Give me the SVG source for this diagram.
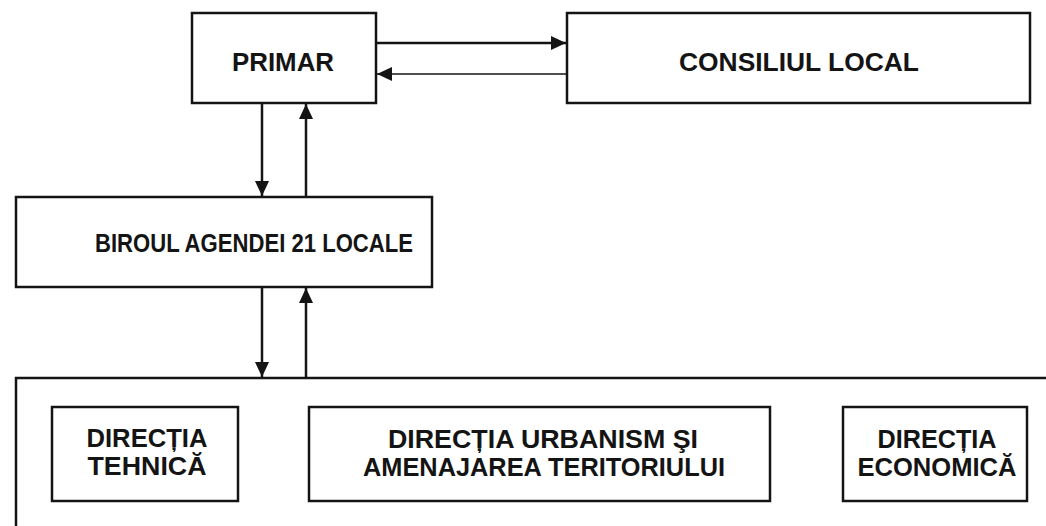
<svg xmlns="http://www.w3.org/2000/svg" width="1046" height="526" viewBox="0 0 1046 526">
<defs>
<marker id="ah" markerUnits="userSpaceOnUse" markerWidth="16" markerHeight="14" refX="15" refY="7" orient="auto">
<path d="M0,0 L15,7 L0,14 Z" fill="#141414"/>
</marker>
</defs>
<style>
.box{fill:#fff;stroke:#141414;stroke-width:2.5}
.t{font-family:"Liberation Sans",Arial,sans-serif;font-weight:bold;font-size:26px;fill:#141414;text-anchor:middle}
.c{stroke:#141414;stroke-width:2.5;fill:none}
.thin{stroke:#141414;stroke-width:1.3;fill:none}
</style>
<rect width="1046" height="526" fill="#fff"/>
<g id="primar">
<rect class="box" x="192" y="13" width="184" height="90"/>
<text class="t" x="283" y="71" textLength="102" lengthAdjust="spacingAndGlyphs">PRIMAR</text>
</g>
<g id="consiliul">
<rect class="box" x="567" y="13" width="463" height="90"/>
<text class="t" x="799" y="71" textLength="240" lengthAdjust="spacingAndGlyphs">CONSILIUL LOCAL</text>
</g>
<g id="biroul">
<rect class="box" x="16" y="197" width="416" height="90"/>
<text class="t" x="254" y="252" textLength="318" lengthAdjust="spacingAndGlyphs">BIROUL AGENDEI 21 LOCALE</text>
</g>
<g id="directii">
<path class="c" d="M16,526 L16,378 L1046,378"/>
</g>
<g id="tehnica">
<rect class="box" x="52" y="407" width="186" height="94"/>
<text class="t" x="147" y="447" textLength="121" lengthAdjust="spacingAndGlyphs">DIRECȚIA</text>
<text class="t" x="147" y="475" textLength="119" lengthAdjust="spacingAndGlyphs">TEHNICĂ</text>
</g>
<g id="urbanism">
<rect class="box" x="309" y="407" width="461" height="94"/>
<text class="t" x="543" y="448" textLength="310" lengthAdjust="spacingAndGlyphs">DIRECȚIA URBANISM ŞI</text>
<text class="t" x="544" y="476" textLength="362" lengthAdjust="spacingAndGlyphs">AMENAJAREA TERITORIULUI</text>
</g>
<g id="economica">
<rect class="box" x="843" y="407" width="184" height="94"/>
<text class="t" x="937" y="448" textLength="119" lengthAdjust="spacingAndGlyphs">DIRECȚIA</text>
<text class="t" x="937" y="476" textLength="159" lengthAdjust="spacingAndGlyphs">ECONOMICĂ</text>
</g>
<g id="connectors">
<line class="c" x1="377" y1="43" x2="566" y2="43" marker-end="url(#ah)"/>
<line class="thin" x1="567" y1="74" x2="377" y2="74" marker-end="url(#ah)"/>
<line class="c" x1="262" y1="104" x2="262" y2="196" marker-end="url(#ah)"/>
<line class="c" x1="306" y1="196" x2="306" y2="104" marker-end="url(#ah)"/>
<line class="c" x1="262" y1="288" x2="262" y2="377" marker-end="url(#ah)"/>
<line class="c" x1="306" y1="377" x2="306" y2="288" marker-end="url(#ah)"/>
</g>
</svg>
